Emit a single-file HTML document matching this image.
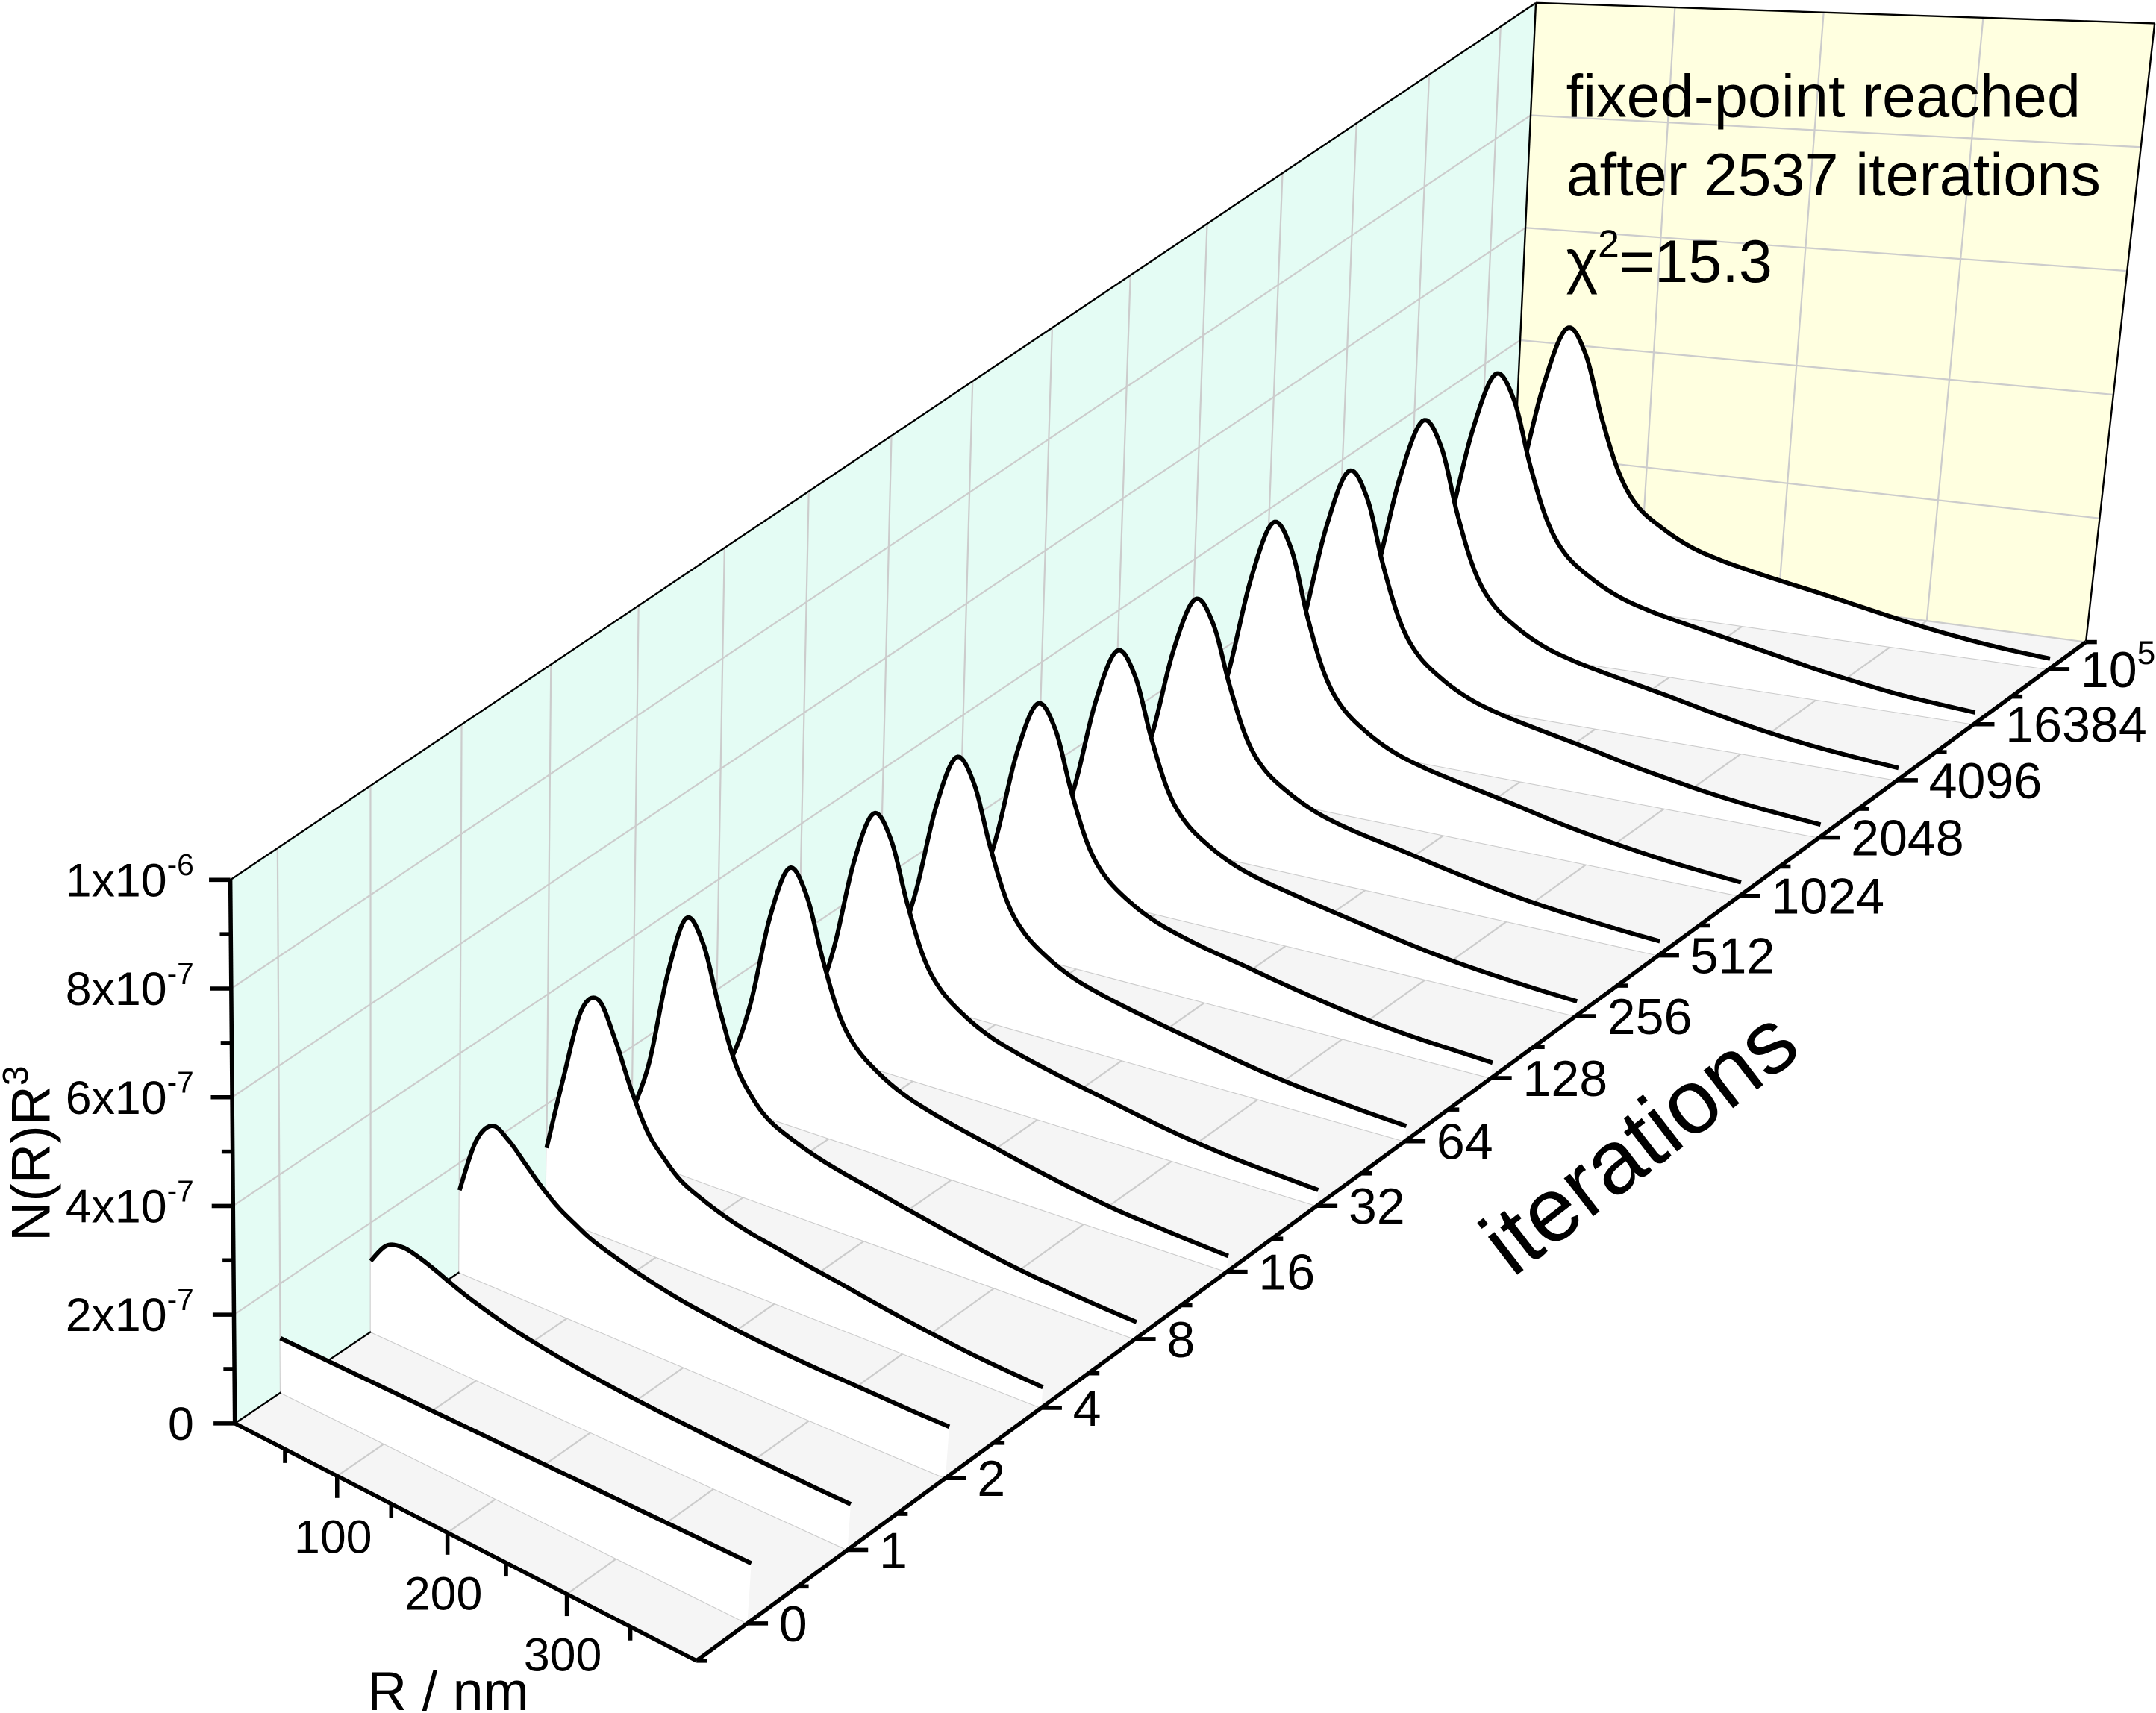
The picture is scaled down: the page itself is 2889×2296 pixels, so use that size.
<!DOCTYPE html>
<html><head><meta charset="utf-8"><style>
html,body{margin:0;padding:0;background:#fff;}
svg{display:block;font-family:"Liberation Sans",Arial,sans-serif;}
</style></head><body>
<svg id="chart" xmlns="http://www.w3.org/2000/svg" width="2889" height="2296" viewBox="0 0 1568 1246">
<g id="walls"></g>
<g id="floor"></g>
<g id="series"></g>
<g id="axes"></g>
<g font-size="44" fill="#000">
<text x="1139" y="85">fixed-point reached</text>
<text x="1139" y="142">after 2537 iterations</text>
<text x="1139" y="205">χ<tspan dy="-18" font-size="28">2</tspan><tspan dy="18">=15.3</tspan></text>
</g>
<text transform="translate(36,903) rotate(-90)" font-size="40">N(R)R<tspan dy="-16" font-size="26">3</tspan></text>
<text x="267" y="1244" font-size="40">R / nm</text>
<text transform="translate(1100,930) rotate(-37.7)" font-size="66">iterations</text>
</svg>
<script>
// ---- data ----
const rGrid = [0,15,30,45,60,75,90,105,120,140,160,180,200,225,250,275,300,325,350,375,400];
const iterLabels = ["0","1","2","4","8","16","32","64","128","256","512","1024","2048","4096","16384","10^5"];
const yTicks = [0,2,4,6,8,10];
const yTickLabels = ["0","2x10|-7","4x10|-7","6x10|-7","8x10|-7","1x10|-6"];
const rTicks = [50,100,150,200,250,300,350];
const rTickLabels = {100:"100",200:"200",300:"300"};
// values in units of 1e-7
const slice0 = [1.0,1.0,1.0,1.0,1.0,1.0,1.0,1.0,1.0,1.0,1.0,1.0,1.0,1.0,1.0,1.0,1.0,1.0,1.0,1.0,1.0];
const slice1 = [1.3,1.7,1.8,1.75,1.65,1.53,1.42,1.33,1.25,1.16,1.09,1.03,0.98,0.93,0.89,0.86,0.83,0.81,0.79,0.77,0.76];
const slice2 = [1.5,2.5,2.9,2.75,2.45,2.15,1.9,1.72,1.56,1.42,1.3,1.2,1.12,1.05,0.99,0.95,0.92,0.9,0.88,0.86,0.85];
const slice3 = [1.2,2.6,3.9,4.2,3.6,2.8,2.15,1.78,1.5,1.3,1.15,1.04,0.96,0.86,0.77,0.67,0.58,0.5,0.43,0.38,0.34];
const slice4 = [0.8,1.8,3.5,4.6,4.25,3.2,2.3,1.8,1.5,1.3,1.15,1.04,0.95,0.83,0.72,0.61,0.51,0.43,0.37,0.32,0.28];
const slice5 = [0.45,0.9,1.95,3.6,4.55,4.15,3.1,2.22,1.73,1.4,1.18,1.04,0.93,0.81,0.69,0.58,0.48,0.4,0.35,0.3,0.26];
const slice6 = [0.43,0.87,1.92,3.55,4.5,4.12,3.07,2.2,1.72,1.39,1.17,1.03,0.92,0.8,0.69,0.58,0.48,0.4,0.34,0.3,0.26];
const slice7 = [0.43,0.87,1.92,3.55,4.5,4.12,3.07,2.2,1.72,1.39,1.17,1.03,0.92,0.8,0.69,0.58,0.48,0.4,0.34,0.29,0.25];
const slice8 = [0.42,0.86,1.9,3.52,4.47,4.1,3.05,2.19,1.71,1.38,1.16,1.02,0.91,0.8,0.68,0.57,0.47,0.39,0.33,0.29,0.25];
const slice9 = [0.42,0.85,1.88,3.5,4.45,4.08,3.04,2.18,1.7,1.37,1.15,1.01,0.91,0.79,0.68,0.57,0.47,0.39,0.33,0.28,0.24];
const slice10 = [0.41,0.84,1.86,3.47,4.42,4.05,3.02,2.16,1.68,1.36,1.14,1.0,0.9,0.79,0.67,0.56,0.46,0.38,0.32,0.27,0.23];
const slice11 = [0.45,0.92,2.05,3.8,4.85,4.45,3.3,2.37,1.84,1.48,1.24,1.09,0.98,0.86,0.74,0.61,0.5,0.41,0.33,0.27,0.22];
const slice12 = [0.45,0.92,2.05,3.8,4.85,4.45,3.3,2.37,1.84,1.48,1.24,1.09,0.98,0.86,0.74,0.61,0.5,0.4,0.32,0.26,0.21];
const slice13 = [0.45,0.92,2.05,3.8,4.85,4.45,3.3,2.37,1.84,1.48,1.24,1.09,0.98,0.86,0.74,0.61,0.49,0.39,0.31,0.25,0.2];
const slice14 = [0.44,0.9,2.0,3.75,4.8,4.4,3.27,2.35,1.82,1.47,1.23,1.08,0.97,0.85,0.73,0.61,0.49,0.39,0.3,0.24,0.19];
const slice15 = [0.43,0.88,1.97,3.7,4.75,4.35,3.24,2.33,1.8,1.46,1.22,1.07,0.96,0.84,0.73,0.61,0.49,0.38,0.29,0.22,0.17];
const slices = [slice0,slice1,slice2,slice3,slice4,slice5,slice6,slice7,slice8,slice9,slice10,slice11,slice12,slice13,slice14,slice15];

// ---- projection ----
const RMAX = 400, ZMAX = 10, NS = 16;
function quad(p0,p1,p2,p3){
  const x0=p0[0],y0=p0[1],x1=p1[0],y1=p1[1],x2=p2[0],y2=p2[1],x3=p3[0],y3=p3[1];
  const dx1=x1-x2,dx2=x3-x2,dx3=x0-x1+x2-x3,dy1=y1-y2,dy2=y3-y2,dy3=y0-y1+y2-y3;
  const den=dx1*dy2-dx2*dy1;
  const g=(dx3*dy2-dx2*dy3)/den, h=(dx1*dy3-dx3*dy1)/den;
  const a=x1-x0+g*x1,b=x3-x0+h*x3,d=y1-y0+g*y1,e=y3-y0+h*y3;
  return (u,v)=>{const w=g*u+h*v+1;return [(a*u+b*v+x0)/w,(d*u+e*v+y0)/w];};
}
const floorMap = quad([170.8,1035.4],[506.5,1208],[1517,467],[1098,411]);
const topMap = quad([167.5,640],[534,772],[1567,17],[1117,2]);
function P(r,v,z){const u=r/RMAX;const a=floorMap(u,v),b=topMap(u,v);const s=z/ZMAX;return [a[0]+s*(b[0]-a[0]),a[1]+s*(b[1]-a[1])];}
function sliceV(k){return (k+0.5)/NS;}
const NS_SVG="http://www.w3.org/2000/svg";
function mk(tag,attrs,parent){const el=document.createElementNS(NS_SVG,tag);for(const k in attrs)el.setAttribute(k,attrs[k]);parent.appendChild(el);return el;}
function pts(a){return a.map(p=>p[0].toFixed(2)+","+p[1].toFixed(2)).join(" ");}
function line(p,q,stroke,w,parent,name){const el=mk("line",{x1:p[0],y1:p[1],x2:q[0],y2:q[1],stroke:stroke,"stroke-width":w,"stroke-linecap":"butt"},parent);


return el;}

const walls=document.getElementById("walls"),floorG=document.getElementById("floor"),series=document.getElementById("series"),axes=document.getElementById("axes");
const GRID="#cccccc";
let el=mk("polygon",{points:pts([P(0,0,0),P(0,0,ZMAX),P(0,1,ZMAX),P(0,1,0)]),fill:"#e4fcf4"},walls);


el=mk("polygon",{points:pts([P(0,1,0),P(0,1,ZMAX),P(RMAX,1,ZMAX),P(RMAX,1,0)]),fill:"#ffffe0"},walls);


for(let k=0;k<NS;k++){line(P(0,sliceV(k),0),P(0,sliceV(k),ZMAX),GRID,1.2,walls,'wall-grid-line');}
for(const z of [2,4,6,8]){line(P(0,0,z),P(0,1,z),GRID,1.2,walls,'wall-grid-line');line(P(0,1,z),P(RMAX,1,z),GRID,1.2,walls,'wall-grid-line');}
for(const r of [100,200,300]){line(P(r,1,0),P(r,1,ZMAX),GRID,1.2,walls,'wall-grid-line');}
line(P(0,0,ZMAX),P(0,1,ZMAX),"#000",1.3,walls,'wall-edge');
line(P(0,1,0),P(0,1,ZMAX),"#000",1.3,walls,'wall-edge');
line(P(0,1,ZMAX),P(RMAX,1,ZMAX),"#000",1.3,walls,'wall-edge');
line(P(RMAX,1,ZMAX),P(RMAX,1,0),"#000",1.3,walls,'wall-edge');
el=mk("polygon",{points:pts([P(0,0,0),P(RMAX,0,0),P(RMAX,1,0),P(0,1,0)]),fill:"#f5f5f5"},floorG);


for(const r of [100,200,300]){line(P(r,0,0),P(r,1,0),GRID,1.2,floorG,'floor-grid-line');}
for(let k=0;k<NS;k++){line(P(0,sliceV(k),0),P(RMAX,sliceV(k),0),GRID,1.2,floorG,'floor-grid-line');}
line(P(0,1,0),P(RMAX,1,0),GRID,1.2,floorG,'floor-grid-line');
line(P(0,0,0),P(0,1,0),"#000",1.3,floorG,'floor-edge');

function smooth(vals){
  const out=[];const n=rGrid.length;
  for(let i=0;i<n-1;i++){
    const i0=Math.max(0,i-1),i3=Math.min(n-1,i+2);
    for(let s=0;s<10;s++){
      const t=s/10,t2=t*t,t3=t2*t;
      const cr=(a,b,c,d)=>0.5*((2*b)+(-a+c)*t+(2*a-5*b+4*c-d)*t2+(-a+3*b-3*c+d)*t3);
      out.push([cr(rGrid[i0],rGrid[i],rGrid[i+1],rGrid[i3]),Math.max(0,cr(vals[i0],vals[i],vals[i+1],vals[i3]))]);
    }
  }
  out.push([rGrid[n-1],vals[n-1]]);
  return out;
}
for(let k=NS-1;k>=0;k--){
  const v=sliceV(k);
  const curve=smooth(slices[k]).map(p=>P(p[0],v,p[1]));
  const face=mk("polygon",{points:pts(curve.concat([P(RMAX,v,0),P(0,v,0)])),fill:"#ffffff"},series);
  
  
  const pl=mk("polyline",{points:pts(curve),fill:"none",stroke:"#000","stroke-width":3.2,"stroke-linejoin":"round"},series);
  
  
}

line(P(0,0,0),P(0,0,ZMAX),"#000",3,axes,'y-axis-line');
line(P(0,0,0),P(RMAX,0,0),"#000",3,axes,'x-axis-line');
line(P(RMAX,0,0),P(RMAX,1,0),"#000",3,axes,'iterations-axis-line');
function supText(x,y,label,fs,anchor,parent,name){
  const t=mk("text",{x:x,y:y,"font-size":fs,"text-anchor":anchor},parent);
  
  
  const parts=label.split("|");
  if(label.indexOf("^")>=0){const q=label.split("^");parts[0]=q[0];parts[1]=q[1];}
  const a=mk("tspan",{},t);a.textContent=parts[0];
  if(parts.length>1){const b=mk("tspan",{dy:-fs*0.45,"font-size":fs*0.65},t);b.textContent=parts[1];}
  return t;
}
for(let i=0;i<=10;i++){
  const p=P(0,0,i);const major=(i%2===0);
  line([p[0]-(major?15.5:8),p[1]],p,"#000",3,axes,major?'y-major-tick':'y-minor-tick');
}
yTicks.forEach((z,i)=>{const p=P(0,0,z);supText(141,p[1]+12,yTickLabels[i],34,"end",axes,'y-tick-label');});
rTicks.forEach(r=>{const p=P(r,0,0);const major=rTickLabels[r]!==undefined;
  line(p,[p[0],p[1]+(major?16:10)],"#000",3,axes,major?'x-major-tick':'x-minor-tick');
  if(major){const t=mk("text",{x:p[0]-3,y:p[1]+56,"font-size":34,"text-anchor":"middle"},axes);
  
  
  t.textContent=rTickLabels[r];}
});
for(let k=0;k<=NS;k++){const p=P(RMAX,k/NS,0);line(p,[p[0]+8,p[1]],"#000",3,axes,'iterations-minor-tick');}
iterLabels.forEach((lab,k)=>{const p=P(RMAX,sliceV(k),0);
  line(p,[p[0]+15,p[1]],"#000",3,axes,'iterations-major-tick');
  supText(p[0]+23,p[1]+13,lab,37,"start",axes,'iterations-tick-label');
});
</script>
</body></html>
